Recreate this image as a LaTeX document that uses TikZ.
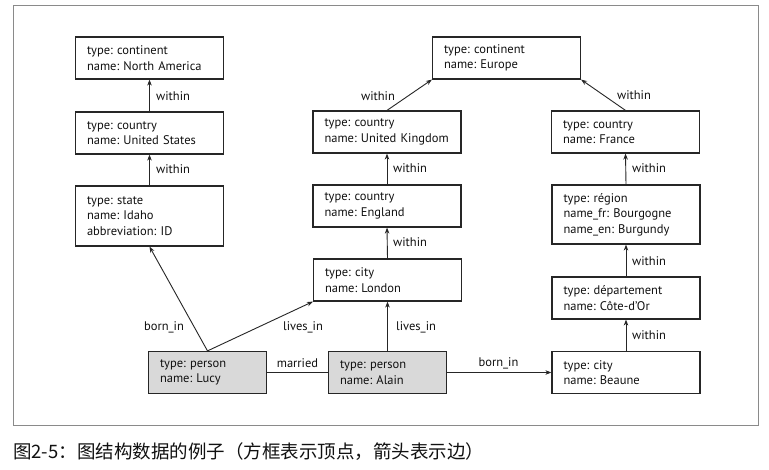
\documentclass[tikz,border=0pt]{standalone}
\usepackage{fontspec}
\setmainfont{PT Sans}
\newfontfamily\cjk{Noto Sans CJK SC}
\usetikzlibrary{arrows.meta}
\definecolor{linec}{HTML}{262626}
\definecolor{txt}{HTML}{111111}
\definecolor{framec}{HTML}{8A8A8A}
\definecolor{personfill}{HTML}{D9D9D9}
\newcommand{\boxfont}{\frenchspacing\sfcode`\:=1000\fontsize{12.5}{15.5}\selectfont}
\begin{document}
\begin{tikzpicture}[x=1pt,y=-1pt,
  vbox/.style={draw=linec, line width=1.2pt, fill=white, minimum width=148pt, minimum height=42pt,
    text width=125pt, align=left, inner sep=0pt, text=txt, font=\boxfont},
  tallbox/.style={vbox, minimum height=59pt},
  person/.style={vbox, fill=personfill, minimum width=118pt, text width=95pt},
  edge/.style={draw=linec, line width=0.9pt, -{Stealth[length=6pt,width=4.5pt]}},
  plainedge/.style={draw=linec, line width=0.9pt},
  lab/.style={inner sep=0pt, text=txt, font=\boxfont}
]
\useasboundingbox[fill=white] (0,0) rectangle (769,470);
\node[draw=framec, line width=0.8pt, minimum width=745pt, minimum height=420pt, inner sep=0pt] (frame) at (385.5,215) {};

% left column
\node[vbox] (na) at (149.5,58) {type: continent\\name: North America};
\node[vbox] (us) at (149.5,133) {type: country\\name: United States};
\node[tallbox, minimum height=60pt] (idaho) at (149.5,216) {type: state\\name: Idaho\\abbreviation: ID};

% middle column
\node[vbox] (eu) at (506.5,58) {type: continent\\name: Europe};
\node[vbox] (uk) at (387,132) {type: country\\name: United Kingdom};
\node[vbox] (eng) at (387,206) {type: country\\name: England};
\node[vbox] (lon) at (387.5,280) {type: city\\name: London};

% right column
\node[vbox] (fr) at (625.5,132) {type: country\\name: France};
\node[tallbox] (reg) at (626,214.5) {type: région\\name\_fr: Bourgogne\\name\_en: Burgundy};
\node[vbox] (dep) at (626,298) {type: département\\name: Côte-d’Or};
\node[vbox] (bea) at (626,372.5) {type: city\\name: Beaune};

% persons
\node[person] (lucy) at (207.5,372.5) {type: person\\name: Lucy};
\node[person] (alain) at (387.5,372.5) {type: person\\name: Alain};

% edges
\draw[edge] (us.north) -- (na.south);
\node[lab, anchor=west] (l1) at (156,96) {within};
\draw[edge] (idaho.north) -- (us.south);
\node[lab, anchor=west] (l2) at (156,169) {within};

\draw[edge] (uk.north) -- (eu.south west);
\node[lab] (l3) at (378,96) {within};
\draw[edge] (eng.north) -- (uk.south);
\node[lab, anchor=west] (l4) at (393,168) {within};
\draw[edge] (lon.north) -- (eng.south);
\node[lab, anchor=west] (l5) at (393,242) {within};

\draw[edge] (fr.north) -- (eu.south east);
\node[lab] (l6) at (634,95) {within};
\draw[edge] (reg.north) -- (fr.south);
\node[lab, anchor=west] (l7) at (632,168) {within};
\draw[edge] (dep.north) -- (reg.south);
\node[lab, anchor=west] (l8) at (632,261) {within};
\draw[edge] (bea.north) -- (dep.south);
\node[lab, anchor=west] (l9) at (632,335) {within};

\draw[edge] (lucy.north) -- (idaho.south);
\node[lab] (l10) at (164,327) {born\_in};
\draw[edge] (lucy.north) -- (lon.south west);
\node[lab] (l11) at (303,327) {lives\_in};
\draw[plainedge] (lucy.east) -- (alain.west);
\node[lab] (l12) at (297.5,363) {married};
\draw[edge] (alain.north) -- (lon.south);
\node[lab, anchor=west] (l13) at (396,327) {lives\_in};
\draw[edge] (alain.east) -- (bea.west);
\node[lab] (l14) at (498.5,363) {born\_in};

% caption
\node[anchor=west, inner sep=0pt, text=txt, font=\cjk\fontsize{18.5}{20}\selectfont] (cap) at (13,452) {图2-5：图结构数据的例子（方框表示顶点，箭头表示边）};
\end{tikzpicture}
\end{document}
